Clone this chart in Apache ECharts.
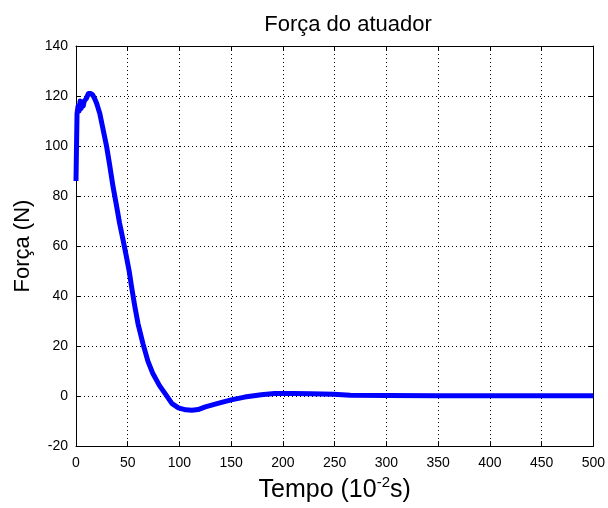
<!DOCTYPE html>
<html>
<head>
<meta charset="utf-8">
<script src="https://cdn.jsdelivr.net/npm/echarts@6/dist/echarts.min.js"></script>
<style>
  html, body { margin: 0; padding: 0; background: #fff; }
  #chart { width: 608px; height: 508px; }
</style>
</head>
<body>
<div id="chart"></div>
<script>
// Actuator force response over time (time in units of 10^-2 s)
var timeValues = [0, 0.5, 1, 2, 3, 4, 5, 6, 7, 8, 10, 12, 14, 16, 18, 20, 23, 26, 29.5, 32.5,
  35.7, 38.9, 42, 45.3, 48.5, 51.6, 53.6, 56.8, 59.9, 64.7, 69.5, 74.3, 80.7, 87, 92.8, 99,
  106, 112, 118, 125, 138, 150, 163, 179, 192, 210, 227, 249, 265, 300, 350, 400, 450, 500];
var forceValues = [86, 100, 113, 116, 114, 118, 115, 117, 116, 118, 119, 121, 121, 120.5, 119, 117, 113, 107, 100, 92.5,
  84, 76.7, 69.4, 62.8, 56.2, 49.5, 44, 36, 29, 21, 14, 9, 4.2, 0.5, -3, -4.7,
  -5.5, -5.7, -5.4, -4.3, -2.8, -1.5, -0.4, 0.5, 1.0, 1.0, 0.9, 0.7, 0.3, 0.2, 0.1, 0.1, 0.1, 0.1];

var xTicks = { min: 0, max: 500, interval: 50 };
var yTicks = { min: -20, max: 140, interval: 20 };

var titleText = 'Força do atuador';
var yName = 'Força (N)';

var points = timeValues.map(function (t, i) { return [t, forceValues[i]]; });

var font = 'Arial, "Liberation Sans", Helvetica, sans-serif';
var gridDots = { show: true, lineStyle: { color: '#000', width: 1, type: [1, 3] } };

function mainAxis(range, pos) {
  return {
    type: 'value', position: pos, min: range.min, max: range.max, interval: range.interval,
    axisLine: { show: true, onZero: false, lineStyle: { color: '#000', width: 1 } },
    axisTick: { show: true, inside: true, length: 5, lineStyle: { color: '#000' } },
    axisLabel: { color: '#000', fontSize: 14, fontFamily: font, margin: 8 },
    splitLine: gridDots
  };
}
function mirrorAxis(range, pos) {
  return {
    type: 'value', position: pos, min: range.min, max: range.max, interval: range.interval,
    axisLine: { show: true, onZero: false, lineStyle: { color: '#000', width: 1 } },
    axisTick: { show: true, inside: true, length: 5, lineStyle: { color: '#000' } },
    axisLabel: { show: false },
    splitLine: { show: false }
  };
}

var chart = echarts.init(document.getElementById('chart'), null, { renderer: 'canvas' });
var xMain = mainAxis(xTicks, 'bottom');
xMain.axisLabel.margin = 10;
xMain.name = '{t|Tempo (10}{s|-2}{t|s)}';
xMain.nameLocation = 'middle';
xMain.nameGap = 28;
xMain.nameTextStyle = {
  rich: {
    t: { fontSize: 25, fontFamily: font, color: '#000', lineHeight: 28, verticalAlign: 'bottom' },
    s: { fontSize: 15, fontFamily: font, color: '#000', lineHeight: 15, verticalAlign: 'top' }
  }
};
var yMain = mainAxis(yTicks, 'left');
yMain.name = yName;
yMain.nameLocation = 'middle';
yMain.nameGap = 32;
yMain.nameTextStyle = { fontSize: 22, fontFamily: font, color: '#000' };

chart.setOption({
  backgroundColor: '#fff',
  animation: false,
  title: {
    text: titleText, left: 343, top: 9, textAlign: 'center',
    textStyle: { fontSize: 22, fontWeight: 'normal', fontFamily: font, color: '#000' }
  },
  grid: { left: 76, right: 9, top: 46, bottom: 59, containLabel: false },
  xAxis: [xMain, mirrorAxis(xTicks, 'top')],
  yAxis: [yMain, mirrorAxis(yTicks, 'right')],
  series: [{
    type: 'line', data: points, xAxisIndex: 0, yAxisIndex: 0,
    showSymbol: false, smooth: false,
    lineStyle: { color: '#0000ff', width: 5, join: 'round' }
  }]
});
</script>
</body>
</html>
